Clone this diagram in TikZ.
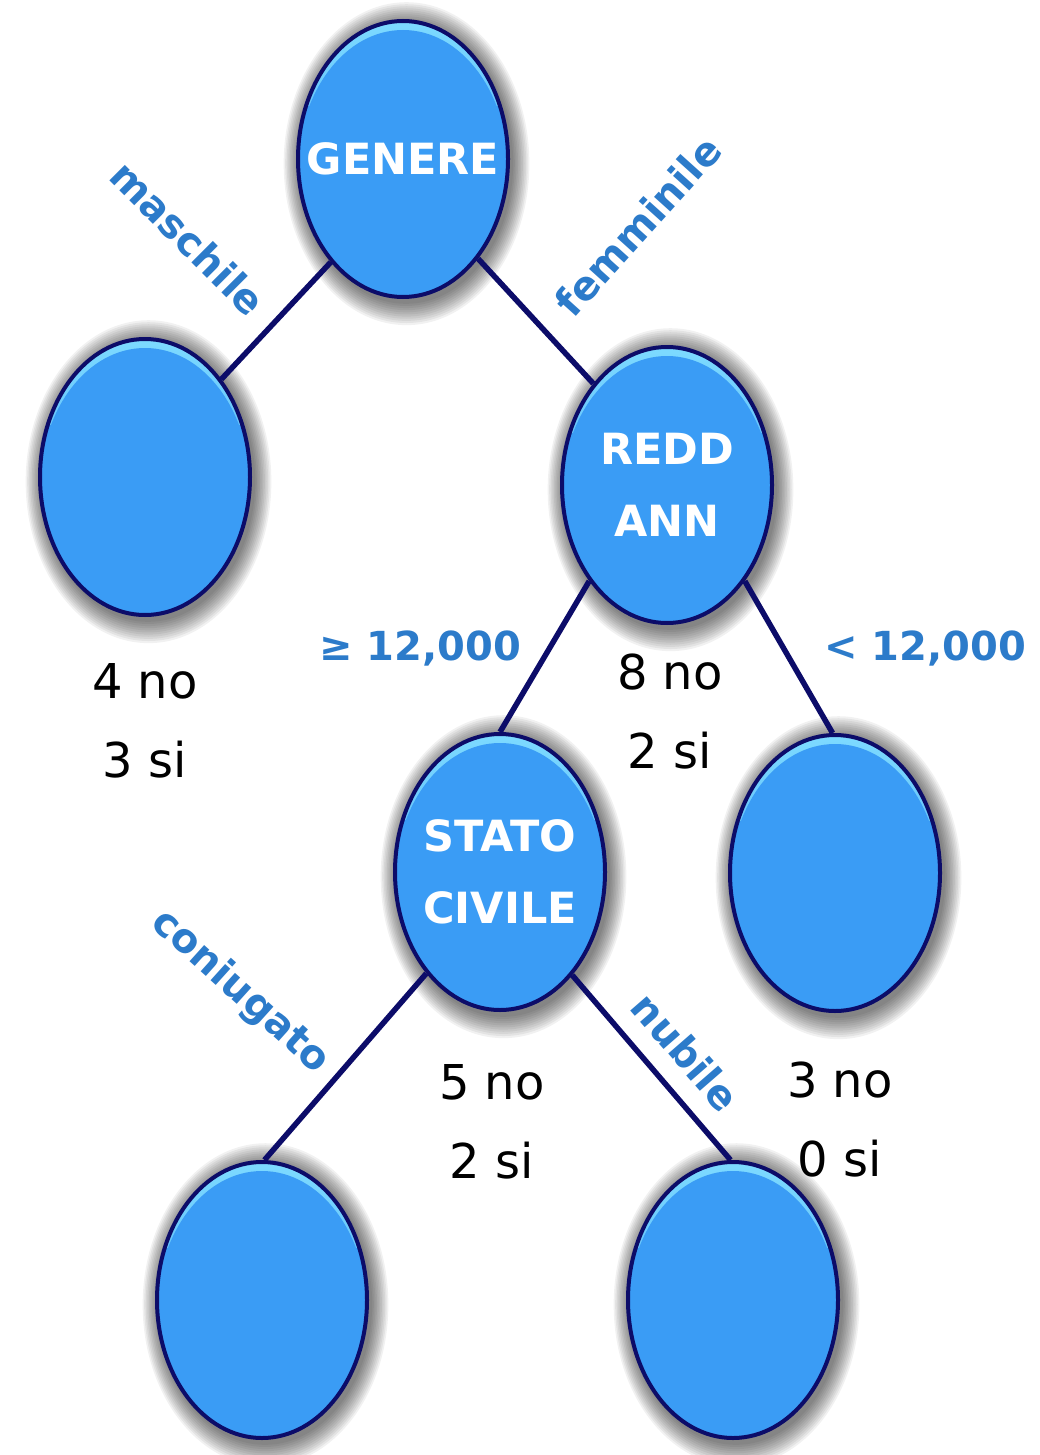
\documentclass[tikz,border=0pt]{standalone}
\usepackage{fontspec}
\setmainfont{DejaVu Sans}
\usetikzlibrary{shapes.geometric,shadows}
\definecolor{nodeblue}{RGB}{58,156,245}
\definecolor{hilite}{RGB}{125,218,255}
\definecolor{navy}{RGB}{12,12,105}
\definecolor{lblblue}{RGB}{44,123,202}
\begin{document}
\begin{tikzpicture}[x=1pt,y=-1pt,
  sh/.style={general shadow={fill=black, opacity=0.055, shadow scale=#1, shadow xshift=3pt, shadow yshift=-4pt}},
  softshadow/.style={sh=1.17, sh=1.155, sh=1.14, sh=1.125, sh=1.11, sh=1.095, sh=1.08, sh=1.065, sh=1.05, sh=1.035, sh=1.02},
  nodetext/.style={text=white, align=center, inner sep=0pt, font=\bfseries\fontsize{43}{72}\selectfont},
  treenode/.style={ellipse, draw=navy, line width=4pt, fill=nodeblue,
    minimum width=210pt, minimum height=276pt, inner sep=0pt,
    softshadow,
    path picture={
      \shade[top color=hilite, bottom color=nodeblue]
        (path picture bounding box.north west) rectangle ([yshift=-85pt]path picture bounding box.north east);
      \fill[nodeblue] ([yshift=-10pt]path picture bounding box.center) ellipse [x radius=105pt, y radius=139pt];
    }},
  edgeline/.style={draw=navy, line width=5.5pt},
  branch/.style={text=lblblue, font=\bfseries\fontsize{40}{48}\selectfont, inner sep=0pt},
  countlbl/.style={text=black, align=center, font=\fontsize{48}{79}\selectfont, inner sep=0pt}
]
\useasboundingbox[fill=white] (0,0) rectangle (1039,1455);

% nodes
\node[treenode, label={[nodetext]center:GENERE}] (g)  at (403,159)  {};
\node[treenode] (l)  at (145,477)  {};
\node[treenode, label={[nodetext]center:REDD\\ANN}] (r)  at (667,485)  {};
\node[treenode, label={[nodetext]center:STATO\\CIVILE}] (s)  at (500,872)  {};
\node[treenode] (rr) at (835,873)  {};
\node[treenode] (bl) at (262,1300) {};
\node[treenode] (br) at (733,1300) {};

% connectors
\draw[edgeline] (g.235) -- (l.52);
\draw[edgeline] (g.-53) -- (r.126);
\draw[edgeline] (r.231) -- (s.90);
\draw[edgeline] (r.-51) -- (rr.91);
\draw[edgeline] (s.234) -- (bl.89);
\draw[edgeline] (s.-55) -- (br.91);

% branch labels
\node[branch, rotate=-45] (lm) at (188,238) {maschile};
\node[branch, rotate=48]  (lf) at (638,226) {femminile};
\node[branch] (lge) at (420,648) {≥ 12,000};
\node[branch] (llt) at (925,648) {< 12,000};
\node[branch, rotate=-42] (lc) at (240,992) {coniugato};
\node[branch, rotate=-49] (ln) at (686,1052) {nubile};

% counts
\node[countlbl] (c1) at (145,721)  {4 no\\3 si};
\node[countlbl] (c2) at (670,712)  {8 no\\2 si};
\node[countlbl] (c3) at (492,1122) {5 no\\2 si};
\node[countlbl] (c4) at (840,1120) {3 no\\0 si};
\end{tikzpicture}
\end{document}
